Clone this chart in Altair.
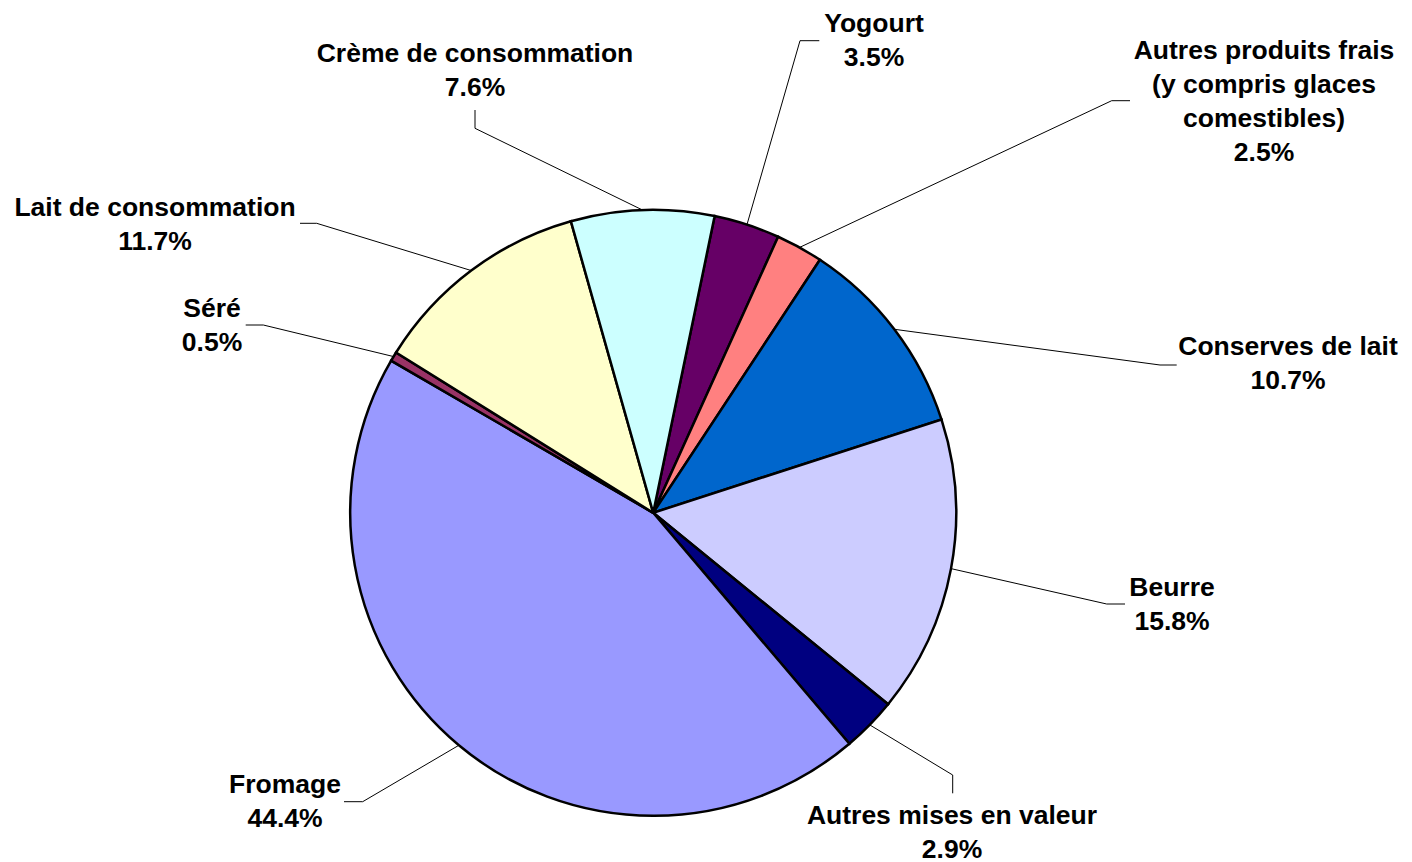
import math
import altair as alt
import pandas as pd

# ---- data (clockwise order, starting just right of 12 o'clock) ----
categories = [
    "Yogourt",
    "Autres produits frais (y compris glaces comestibles)",
    "Conserves de lait",
    "Beurre",
    "Autres mises en valeur",
    "Fromage",
    "Séré",
    "Lait de consommation",
    "Crème de consommation",
]
shares = [3.5, 2.5, 10.7, 15.8, 2.9, 44.4, 0.5, 11.7, 7.6]
label_lines = [
    ["Yogourt"],
    ["Autres produits frais", "(y compris glaces", "comestibles)"],
    ["Conserves de lait"],
    ["Beurre"],
    ["Autres mises en valeur"],
    ["Fromage"],
    ["Séré"],
    ["Lait de consommation"],
    ["Crème de consommation"],
]
colors = ["#660066", "#FF8080", "#0066CC", "#CCCCFF", "#000080",
          "#9999FF", "#993366", "#FFFFCC", "#CCFFFF"]

# ---- layout (plot-area pixels) ----
OFF = 8
W, H = 1396, 854
CX, CY = 653.2 - OFF, 512.8 - OFF
R = 303
START = math.radians(11.7)
LINE_H = 34

# label anchor: centre x, first baseline y (page px)
label_pos = [
    (874, 32.3), (1264, 59.3), (1288, 355), (1172, 596), (952, 824),
    (285, 793.3), (212, 316.7), (155, 215.7), (475, 62.3),
]
# leader line: label end point, knee point (page px)
leader_pts = [
    ((819.3, 40.7), (800, 40.7)),
    ((1130, 100.7), (1111.7, 100.7)),
    ((1176.7, 365), (1160, 365)),
    ((1125, 604), (1106.7, 604)),
    ((952.7, 793.3), (952.7, 775)),
    ((344, 801.7), (362.7, 801.7)),
    ((245.7, 325), (263.3, 325)),
    ((300, 223.3), (316.7, 223.3)),
    ((475, 110), (475, 128.3)),
]

total = sum(shares)
pie_df = pd.DataFrame({"category": categories, "share": shares,
                       "idx": list(range(len(categories)))})

text_rows, line_rows = [], []
cum = 0.0
for i, cat in enumerate(categories):
    mid = START + 2 * math.pi * (cum + shares[i] / 2) / total
    cum += shares[i]
    lx, ly = label_pos[i]
    lines = label_lines[i] + [f"{shares[i]:.1f}%"]
    for j, t in enumerate(lines):
        text_rows.append({"x": lx - OFF, "y": ly - OFF + j * LINE_H, "text": t})
    (ax, ay), (bx, by) = leader_pts[i]
    ex, ey = CX + R * math.sin(mid), CY - R * math.cos(mid)
    for k, (px, py) in enumerate([(ax - OFF, ay - OFF), (bx - OFF, by - OFF), (ex, ey)]):
        line_rows.append({"category": cat, "step": k, "x": px, "y": py})

text_df = pd.DataFrame(text_rows)
line_df = pd.DataFrame(line_rows)

arcs = alt.Chart(pie_df).mark_arc(
    outerRadius=R, stroke="black", strokeWidth=2.5, x=CX, y=CY
).encode(
    theta=alt.Theta("share:Q", stack=True,
                    scale=alt.Scale(range=[START, START + 2 * math.pi])),
    color=alt.Color("category:N", scale=alt.Scale(domain=categories, range=colors),
                    legend=None),
    order=alt.Order("idx:Q"),
)

leaders = alt.Chart(line_df).mark_line(color="black", strokeWidth=1).encode(
    x=alt.X("x:Q", scale=None, axis=None),
    y=alt.Y("y:Q", scale=None, axis=None),
    detail="category:N",
    order="step:Q",
)

texts = alt.Chart(text_df).mark_text(
    font="Liberation Sans", fontSize=26.5, fontWeight="bold",
    align="center", baseline="alphabetic", color="black",
).encode(
    x=alt.X("x:Q", scale=None, axis=None),
    y=alt.Y("y:Q", scale=None, axis=None),
    text="text:N",
)

chart = alt.layer(leaders, arcs, texts).properties(
    width=W, height=H, padding=0, autosize="none"
).configure_view(stroke=None)

chart.save("out.html", embed_options={"renderer": "svg", "actions": False})
